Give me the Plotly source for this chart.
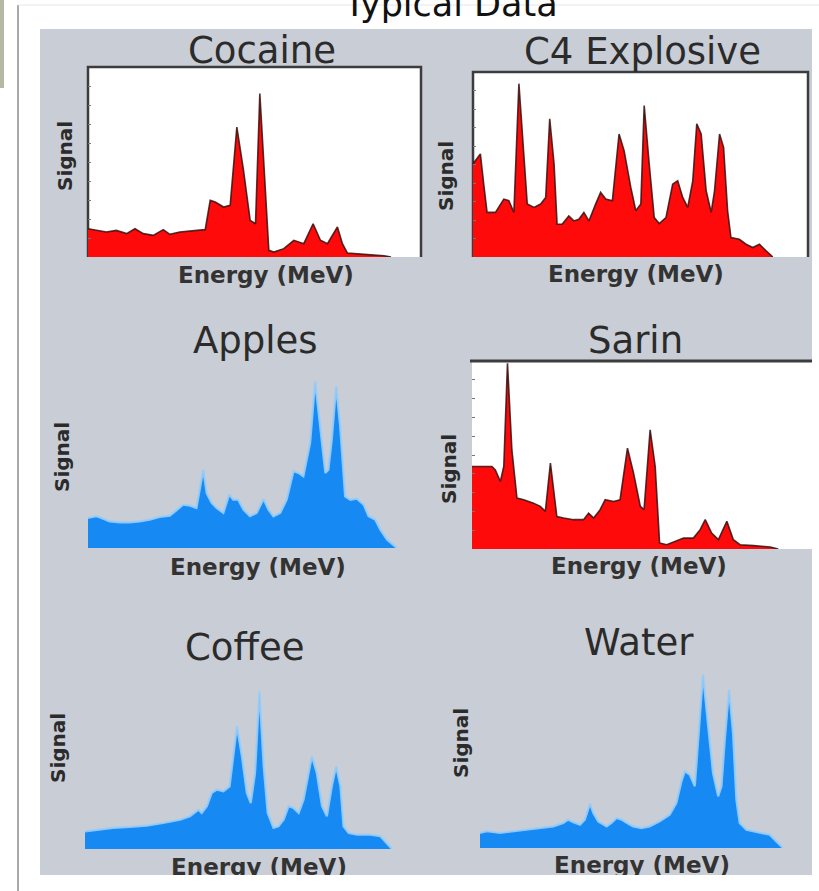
import plotly.graph_objects as go

W, H = 819, 891

# ---- spectra: energy channel (relative, 0-100) vs. detected signal (relative units) ----
cocaine_energy = [0, 5.5, 8.5, 11.6, 14.1, 16.6, 19.6, 22.6, 24.6, 27.6, 32.7, 35.2, 36.7, 38.2, 40.7,
                  42.7, 44.7, 46.7, 48.7, 50.3, 51.6, 52.8, 54.3, 55.8, 58.8, 61.8, 64.8, 67.6, 69.8,
                  71.9, 74.9, 76.4, 77.9, 82.9, 88.9, 91.0]
cocaine_signal = [14.9, 13.2, 14.0, 12.3, 14.9, 12.3, 11.4, 14.4, 11.9, 13.2, 14.0, 14.4, 29.8, 28.9, 26.3,
                  27.2, 68.4, 45.6, 19.3, 17.5, 86.0, 49.1, 3.5, 2.6, 4.4, 8.8, 7.0, 17.5, 8.8,
                  7.0, 15.8, 7.0, 2.1, 1.4, 0.7, 0]

c4_energy = [0, 2.2, 3.2, 4.2, 6.7, 9.2, 10.7, 12.2, 13.7, 15.2, 16.2, 18.2, 20.2, 21.7, 22.9,
             24.2, 25.1, 26.6, 28.6, 30.1, 31.6, 33.1, 34.6, 36.6, 38.1, 39.6, 41.6, 43.6, 45.1,
             47.1, 48.6, 50.1, 51.1, 52.6, 54.1, 55.6, 57.6, 59.6, 61.1, 62.6, 64.1, 65.6, 66.8,
             68.1, 69.6, 71.1, 72.1, 73.6, 74.8, 76.0, 77.0, 79.5, 81.5, 83.5, 85.5, 87.5, 89.5]
c4_signal = [50.3, 55.7, 39.4, 24.1, 24.1, 31.3, 30.4, 24.1, 93.7, 57.5, 28.6, 26.8, 28.6, 32.2, 74.7,
             50.3, 17.7, 17.7, 22.2, 19.5, 20.4, 24.1, 19.5, 28.6, 34.9, 31.3, 30.4, 66.5, 57.5,
             37.6, 25.0, 28.6, 81.9, 50.3, 21.3, 18.1, 21.3, 39.4, 41.2, 32.2, 26.8, 41.2, 72.0,
             66.5, 35.8, 24.1, 35.8, 66.5, 59.3, 25.0, 10.5, 9.6, 6.9, 5.1, 6.9, 3.3, 0]

apples_energy = [0, 2.7, 4.3, 7.0, 10.3, 13.5, 16.8, 20.0, 23.2, 26.5, 28.6, 30.8, 33.0, 35.1, 37.3,
                 38.4, 40.0, 41.6, 43.8, 45.7, 47.0, 48.6, 50.3, 52.4, 54.6, 56.8, 58.4, 60.0, 62.2,
                 64.3, 66.5, 68.1, 69.7, 71.9, 73.5, 75.1, 76.8, 77.8, 78.9, 80.3, 81.6, 83.2, 84.9,
                 87.0, 89.2, 90.8, 93.0, 94.6, 96.8, 100]
apples_signal = [15.8, 16.7, 15.8, 14.0, 13.5, 13.5, 14.0, 14.9, 16.3, 17.0, 19.8, 22.8, 22.3, 21.1, 41.2,
                 28.9, 23.7, 21.1, 18.4, 28.1, 25.4, 25.4, 20.2, 16.7, 18.4, 25.8, 20.2, 16.7, 18.4,
                 25.4, 40.4, 39.5, 37.7, 55.3, 87.7, 64.0, 39.5, 41.2, 57.0, 85.1, 64.0, 27.2, 25.4,
                 26.0, 22.8, 16.7, 14.9, 9.6, 4.4, 0]

sarin_energy = [0, 5.9, 6.9, 8.4, 9.4, 10.5, 11.8, 13.3, 15.3, 18.2, 20.2, 21.7, 23.2, 24.1, 25.1,
                27.1, 30.0, 33.0, 34.5, 36.0, 37.9, 39.4, 41.9, 43.8, 46.0, 47.8, 49.8, 50.9, 52.7,
                54.2, 55.5, 57.6, 62.6, 65.5, 67.5, 69.0, 70.9, 72.9, 75.4, 77.3, 79.3, 83.3, 88.2, 90.6]
sarin_signal = [43.9, 43.9, 42.1, 35.9, 43.9, 98.8, 52.7, 27.1, 26.2, 24.4, 22.7, 20.0, 45.7, 33.3, 17.3,
                16.5, 15.6, 15.6, 19.1, 16.5, 20.9, 26.2, 25.3, 26.2, 53.6, 40.4, 22.7, 20.9, 63.4,
                43.9, 3.2, 2.3, 5.8, 5.8, 10.3, 15.6, 8.5, 5.0, 14.7, 5.0, 2.3, 1.8, 1.1, 0]

coffee_energy = [0, 3.8, 9.2, 14.7, 20.1, 25.5, 31.0, 34.2, 37.0, 38.0, 39.7, 41.3, 42.9, 45.1, 47.1,
                 49.5, 51.1, 52.7, 54.0, 55.4, 56.8, 58.2, 59.5, 61.4, 63.0, 64.7, 66.3, 67.9, 69.6,
                 71.2, 73.9, 75.5, 77.2, 78.8, 80.4, 81.8, 83.2, 84.2, 85.9, 88.6, 92.9, 96.2, 100]
coffee_signal = [9.3, 10.2, 11.1, 11.6, 12.3, 13.7, 15.4, 17.2, 20.7, 18.9, 22.5, 29.5, 31.2, 30.4, 33.0,
                 64.6, 48.8, 29.5, 24.2, 40.0, 83.0, 43.5, 18.9, 11.1, 11.9, 15.4, 22.5, 21.6, 18.9,
                 26.0, 48.8, 40.0, 22.5, 17.2, 33.0, 43.5, 33.0, 11.9, 8.4, 7.5, 7.5, 6.7, 0]

water_energy = [0, 2.2, 6.6, 11.0, 15.4, 19.8, 24.2, 27.5, 29.1, 30.8, 33.0, 34.6, 36.3, 37.4, 39.0,
                41.8, 43.4, 45.1, 46.7, 48.4, 50.5, 53.3, 56.0, 59.3, 62.6, 64.8, 66.5, 67.6, 69.2,
                70.9, 72.3, 73.6, 75.3, 76.9, 78.6, 79.7, 80.8, 82.2, 83.5, 84.6, 85.7, 87.9, 90.1,
                93.4, 95.6, 97.8, 100]
water_signal = [7.9, 8.8, 7.9, 8.8, 9.6, 10.5, 11.4, 13.2, 14.9, 13.5, 12.3, 14.9, 23.3, 18.4, 14.0,
                11.4, 13.2, 15.8, 14.9, 13.2, 11.4, 10.5, 11.4, 14.0, 17.5, 23.7, 35.1, 40.4, 38.6,
                32.5, 60.5, 91.2, 64.0, 39.5, 27.2, 32.5, 57.0, 83.3, 60.5, 25.4, 13.2, 9.6, 8.8,
                7.9, 7.0, 3.5, 0]

sample_names = ["Cocaine", "C4 Explosive", "Apples", "Sarin", "Coffee", "Water"]
sample_energy = [cocaine_energy, c4_energy, apples_energy, sarin_energy, coffee_energy, water_energy]
sample_signal = [cocaine_signal, c4_signal, apples_signal, sarin_signal, coffee_signal, water_signal]
threat = [True, True, False, True, False, False]

x_label = "Energy (MeV)"
y_label = "Signal"
page_title = "Typical Data"

# ---- page geometry (pixels) ----
# plot area per panel: (left, right, top, bottom)
areas = [(88, 421, 67, 257), (473, 808, 72, 257), (88, 397, 358, 548),
         (472, 810, 361, 549), (85, 392, 659, 849), (480, 783, 658, 848)]
title_pos = [(262, 51), (642, 52), (255, 340), (635, 340), (245, 647), (639, 642)]
xlab_pos = [(266, 275), (636, 274), (258, 567), (639, 566), (259, 869), (642, 867)]
ylab_pos = [(65, 156), (446, 176), (62, 457), (449, 469), (58, 748), (461, 743)]
PANEL_BOTTOM = 875

RED, RED_EDGE = "#ff0a0a", "rgba(55,15,15,0.85)"
BLUE, BLUE_EDGE = "#1689f2", "rgba(150,205,250,0.9)"
PANEL = "#c9cdd5"
TEXT = "#2b2b2b"


def px(x):
    return x / W


def py(y):
    return 1 - y / H


fig = go.Figure()
shapes = []
annotations = []

# page furniture
shapes.append(dict(type="rect", xref="paper", yref="paper", x0=px(0), x1=px(4), y0=py(88), y1=py(0),
                   fillcolor="#b5b9a3", line_width=0, layer="below"))
shapes.append(dict(type="line", xref="paper", yref="paper", x0=px(18), x1=px(18), y0=py(5), y1=py(891),
                   line=dict(color="#8c8c8c", width=1.5), layer="below"))
shapes.append(dict(type="line", xref="paper", yref="paper", x0=px(18), x1=px(819), y0=py(5), y1=py(5),
                   line=dict(color="#e6e6e6", width=1), layer="below"))
shapes.append(dict(type="rect", xref="paper", yref="paper", x0=px(40), x1=px(812), y0=py(PANEL_BOTTOM),
                   y1=py(29), fillcolor=PANEL, line_width=0, layer="below"))

lab_font = dict(family="DejaVu Sans", size=23, color="#333333", weight="bold")
cut_x, cut_y = [], []

for i, name in enumerate(sample_names):
    k = i + 1
    l, r, t, b = areas[i]
    xa = "x" if k == 1 else f"x{k}"
    ya = "y" if k == 1 else f"y{k}"
    boxed = threat[i]

    if boxed:
        shapes.append(dict(type="rect", xref="paper", yref="paper", x0=px(l), x1=px(r if i != 3 else 812),
                           y0=py(b), y1=py(t), fillcolor="white", line_width=0, layer="below"))
        if i == 3:
            shapes.append(dict(type="line", xref="paper", yref="paper", x0=px(470), x1=px(812),
                               y0=py(t), y1=py(t), line=dict(color="#3c3c3c", width=3), layer="below"))
        else:
            path = f"M {px(l)},{py(b)} L {px(l)},{py(t)} L {px(r)},{py(t)} L {px(r)},{py(b)}"
            shapes.append(dict(type="path", xref="paper", yref="paper", path=path,
                               line=dict(color="#3c3c3c", width=2.5), layer="below"))

    fig.add_trace(go.Scatter(
        x=sample_energy[i], y=sample_signal[i], mode="lines", fill="tozeroy",
        fillcolor=RED if boxed else BLUE,
        line=dict(color=RED_EDGE if boxed else BLUE_EDGE, width=1.6 if boxed else 2.2),
        xaxis=xa, yaxis=ya, hoverinfo="skip", showlegend=False))

    fig.update_layout({
        ("xaxis" if k == 1 else f"xaxis{k}"): dict(
            domain=[px(l), px(r)], range=[0, 100], showgrid=False, zeroline=False,
            showticklabels=False, showline=False, ticks="", anchor=ya),
        ("yaxis" if k == 1 else f"yaxis{k}"): dict(
            domain=[py(b), py(t)], range=[0, 100], showgrid=False, zeroline=False,
            showticklabels=False, showline=False, anchor=xa,
            ticks="inside" if boxed else "", ticklen=3, tickwidth=1, tickcolor="#777777",
            tick0=0, dtick=10),
    })

    # panel title
    tx, ty = title_pos[i]
    annotations.append(dict(text=name, x=px(tx), y=py(ty), xref="paper", yref="paper",
                            xanchor="center", yanchor="middle", showarrow=False,
                            font=dict(family="DejaVu Sans", size=37, color=TEXT)))
    # rotated signal label
    sx, sy = ylab_pos[i]
    annotations.append(dict(text=y_label, x=px(sx), y=py(sy), xref="paper", yref="paper",
                            xanchor="center", yanchor="middle", showarrow=False, textangle=-90,
                            font=dict(family="DejaVu Sans", size=20, color=TEXT, weight="bold")))
    # energy label; the bottom row sits on the panel edge and is cut there
    ex, ey = xlab_pos[i]
    if i < 4:
        annotations.append(dict(text=x_label, x=px(ex), y=py(ey), xref="paper", yref="paper",
                                xanchor="center", yanchor="middle", showarrow=False, font=lab_font))
    else:
        cut_x.append(ex)
        cut_y.append(ey)

# overlay axes in page pixels, ending at the panel's lower edge so text is clipped there
fig.add_trace(go.Scatter(x=cut_x, y=cut_y, mode="text", text=[x_label] * len(cut_x),
                         textposition="middle center", textfont=lab_font, cliponaxis=True,
                         xaxis="x7", yaxis="y7", hoverinfo="skip", showlegend=False))
fig.update_layout(
    xaxis7=dict(domain=[0, 1], range=[0, W], visible=False, anchor="y7", fixedrange=True),
    yaxis7=dict(domain=[py(PANEL_BOTTOM), 1], range=[PANEL_BOTTOM, 0], visible=False, anchor="x7",
                fixedrange=True),
)

annotations.append(dict(text=page_title, x=px(450), y=py(4), xref="paper", yref="paper",
                        xanchor="center", yanchor="middle", showarrow=False,
                        font=dict(family="DejaVu Sans", size=35, color="#111111")))

fig.update_layout(width=W, height=H, margin=dict(l=0, r=0, t=0, b=0),
                  paper_bgcolor="white", plot_bgcolor="rgba(0,0,0,0)",
                  shapes=shapes, annotations=annotations, showlegend=False)

fig.write_html("out.html")
